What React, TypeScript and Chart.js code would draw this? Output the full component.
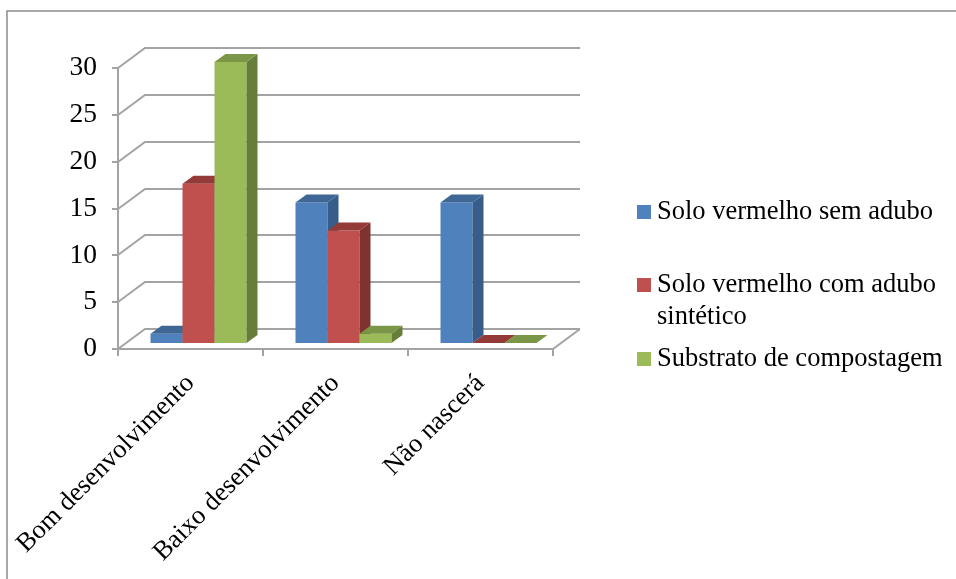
import { useEffect, useRef } from "react";
import { Chart, registerables } from "chart.js";

Chart.register(...registerables);

// ---- data ----
const categories = ["Bom desenvolvimento", "Baixo desenvolvimento", "Não nascerá"];
const seriesNames = [
  "Solo vermelho sem adubo",
  "Solo vermelho com adubo sintético",
  "Substrato de compostagem",
];
const soloSemAdubo = [1, 15, 15];
const soloComAdubo = [17, 12, 0];
const substratoCompostagem = [30, 1, 0];
const yTickValues = [0, 5, 10, 15, 20, 25, 30];
// legend text split into lines
const legendLines = [
  ["Solo vermelho sem adubo"],
  ["Solo vermelho com adubo", "sintético"],
  ["Substrato de compostagem"],
];

// ---- styles ----
const FONT = "'Liberation Serif', 'Times New Roman', serif";
const FONT_SIZE = 26.5;
const FRONT = ["#4F81BD", "#C0504D", "#9BBB59"];
const SIDE = ["#385D8A", "#7F3331", "#677E3A"];
const TOP = ["#3E6795", "#943A38", "#7A9646"];
const GRID = "#A3A3A3";

// 3D projection offsets (pixels)
const WALL_DX = 27;
const WALL_DY = -20;
const BAR_SHIFT_X = 8;
const BAR_SHIFT_Y = -6;
const BAR_DX = 11;
const BAR_DY = -8;

function poly(ctx: CanvasRenderingContext2D, pts: number[][], color: string) {
  ctx.beginPath();
  ctx.moveTo(pts[0][0], pts[0][1]);
  for (let i = 1; i < pts.length; i++) ctx.lineTo(pts[i][0], pts[i][1]);
  ctx.closePath();
  ctx.fillStyle = color;
  ctx.fill();
}

function line(ctx: CanvasRenderingContext2D, x0: number, y0: number, x1: number, y1: number) {
  ctx.beginPath();
  ctx.moveTo(x0, y0);
  ctx.lineTo(x1, y1);
  ctx.stroke();
}

const chart3d = {
  id: "chart3d",
  beforeDraw(chart: any) {
    const ctx: CanvasRenderingContext2D = chart.ctx;
    ctx.save();
    ctx.strokeStyle = "#8C8C8C";
    ctx.lineWidth = 1.5;
    ctx.strokeRect(7, 11, 2000, 2000);
    ctx.restore();
  },
  beforeDatasetsDraw(chart: any) {
    const ctx: CanvasRenderingContext2D = chart.ctx;
    const { left, right, bottom, top } = chart.chartArea;
    const ys = chart.scales.y;

    ctx.save();
    ctx.strokeStyle = GRID;
    ctx.lineWidth = 2;
    ctx.lineCap = "butt";

    // walls: diagonal on the side wall + horizontal on the back wall
    for (const v of yTickValues) {
      const py = Math.round(ys.getPixelForValue(v));
      ctx.beginPath();
      ctx.moveTo(left, py);
      ctx.lineTo(left + WALL_DX, py + WALL_DY);
      ctx.lineTo(right + WALL_DX, py + WALL_DY);
      ctx.stroke();
      // tick mark on the value axis
      line(ctx, left - 6, py, left, py);
    }
    // value axis
    line(ctx, left, Math.round(top), left, Math.round(bottom) + 1);
    // floor front edge and right edge
    const fb = Math.round(bottom);
    line(ctx, left - 6, fb, right, fb);
    line(ctx, right, fb, right + WALL_DX, fb + WALL_DY);
    // category separators
    const n = categories.length;
    for (let i = 0; i <= n; i++) {
      const bx = Math.round(left + ((right - left) * i) / n);
      line(ctx, bx, fb, bx, fb + 7);
    }
    ctx.restore();

    // bars, drawn per category left to right so neighbours overlap correctly
    const nData = chart.data.datasets.length;
    for (let i = 0; i < n; i++) {
      for (let d = 0; d < nData; d++) {
        const bar = chart.getDatasetMeta(d).data[i];
        const { x, y, base, width } = bar.getProps(["x", "y", "base", "width"], true);
        const x0 = x - width / 2 + BAR_SHIFT_X;
        const x1 = x + width / 2 + BAR_SHIFT_X;
        const yt = y + BAR_SHIFT_Y;
        const yb = base + BAR_SHIFT_Y;
        ctx.save();
        ctx.translate(BAR_SHIFT_X, BAR_SHIFT_Y);
        bar.draw(ctx, chart.chartArea);
        ctx.restore();
        if (yb - yt > 0.5) {
          poly(ctx, [[x1, yt], [x1 + BAR_DX, yt + BAR_DY], [x1 + BAR_DX, yb + BAR_DY], [x1, yb]], SIDE[d]);
        }
        poly(ctx, [[x0, yt], [x1, yt], [x1 + BAR_DX, yt + BAR_DY], [x0 + BAR_DX, yt + BAR_DY]], TOP[d]);
      }
    }
    return false;
  },
  afterDraw(chart: any) {
    const ctx: CanvasRenderingContext2D = chart.ctx;
    const squareX = 637;
    const textX = 657;
    const baselines = [[219], [292, 324], [366]];
    ctx.save();
    ctx.font = `${FONT_SIZE}px ${FONT}`;
    ctx.textBaseline = "alphabetic";
    ctx.textAlign = "left";
    legendLines.forEach((lines, k) => {
      const b0 = baselines[k][0];
      ctx.fillStyle = FRONT[k];
      ctx.fillRect(squareX, b0 - 14, 14, 14);
      ctx.fillStyle = "#000";
      lines.forEach((t, j) => ctx.fillText(t, textX, baselines[k][j]));
    });
    ctx.restore();
  },
};

export default function App() {
  const ref = useRef<HTMLCanvasElement>(null);

  useEffect(() => {
    const canvas = ref.current;
    if (!canvas) return;
    const seriesValues = [soloSemAdubo, soloComAdubo, substratoCompostagem];
    const chart = new Chart(canvas, {
      type: "bar",
      data: {
        labels: categories,
        datasets: seriesValues.map((values, k) => ({
          label: seriesNames[k],
          data: values,
          backgroundColor: FRONT[k],
          borderWidth: 0,
          categoryPercentage: 0.662,
          barPercentage: 1,
        })),
      },
      options: {
        responsive: false,
        animation: false,
        events: [],
        layout: { padding: { top: 68, left: 0, right: 403, bottom: 0 } },
        plugins: {
          legend: { display: false },
          tooltip: { enabled: false },
        },
        scales: {
          x: {
            type: "category",
            offset: true,
            grid: { display: false, drawTicks: false },
            border: { display: false },
            ticks: {
              autoSkip: false,
              minRotation: 45,
              maxRotation: 45,
              padding: 19,
              color: "#000",
              font: { family: FONT, size: FONT_SIZE },
            },
            afterFit: (s: any) => {
              s.height = 230;
              s.paddingLeft = 0;
              s.paddingRight = 0;
            },
          },
          y: {
            min: 0,
            max: 30,
            grid: { display: false, drawTicks: false },
            border: { display: false },
            ticks: {
              stepSize: 5,
              padding: 21,
              color: "#000",
              font: { family: FONT, size: 27.5 },
            },
            afterFit: (s: any) => {
              s.width = 118;
            },
          },
        },
      },
      plugins: [chart3d as any],
    });
    return () => chart.destroy();
  }, []);

  return (
    <div style={{ position: "fixed", left: 0, top: 0, width: 956, height: 579, background: "#fff" }}>
      <canvas ref={ref} width={956} height={579} style={{ display: "block" }} />
    </div>
  );
}
